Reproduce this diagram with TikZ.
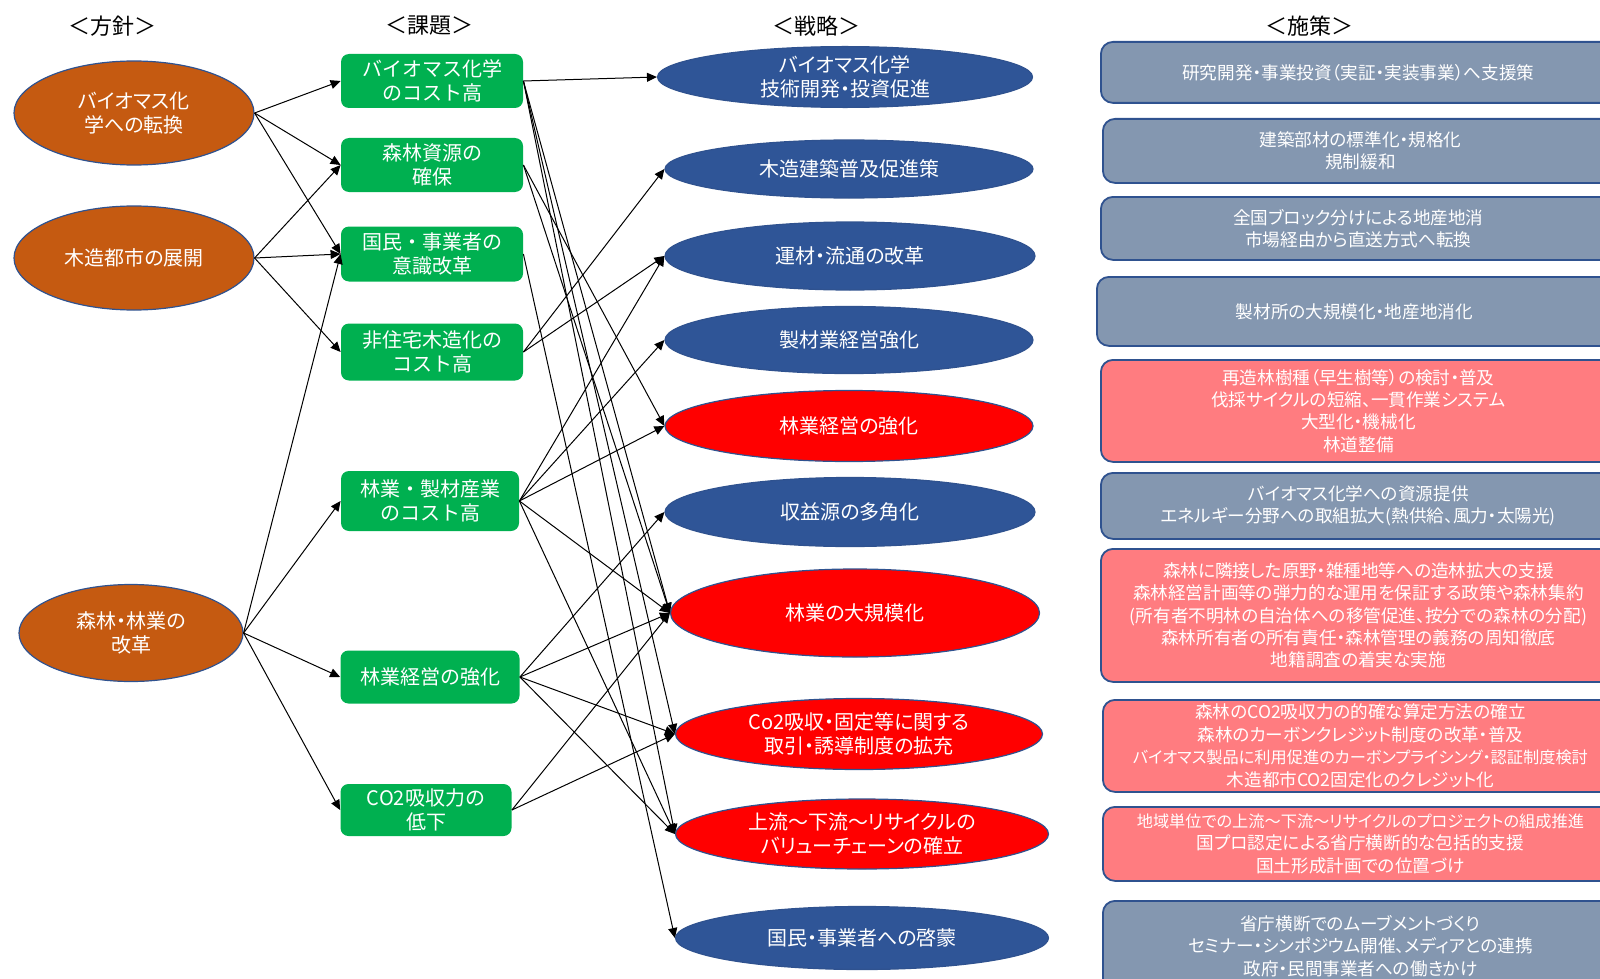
\documentclass[tikz,border=0pt]{standalone}
\usepackage{fontspec}
\setmainfont{Noto Sans CJK JP}
\newfontfamily\paltfont[RawFeature=+palt]{Noto Sans CJK JP}
\usetikzlibrary{shapes.geometric,arrows.meta}

\definecolor{orangefill}{HTML}{C55A11}
\definecolor{greenfill}{HTML}{00B050}
\definecolor{bluefill}{HTML}{2F5597}
\definecolor{redfill}{HTML}{FF0000}
\definecolor{grayblue}{HTML}{8497B0}
\definecolor{pinkfill}{HTML}{FF7C80}
\definecolor{edgeblue}{HTML}{2F528F}

\newcommand{\narrowline}[1]{{\fontsize{8.1}{11.2}\selectfont #1}}

\tikzset{
  hoshin/.style={ellipse, fill=orangefill, draw=edgeblue, line width=0.6pt, text=white, align=center, inner sep=0pt, font=\paltfont\fontsize{10}{12}\selectfont},
  kadai/.style={rectangle, rounded corners=4pt, fill=greenfill, text=white, align=center, inner sep=0pt, font=\fontsize{10}{11.7}\selectfont},
  senryaku/.style={ellipse, draw=edgeblue, line width=0.6pt, text=white, align=center, inner sep=0pt, font=\paltfont\fontsize{10}{12.2}\selectfont},
  sesaku/.style={rectangle, rounded corners=6pt, draw=edgeblue, line width=0.9pt, text=white, align=center, anchor=north west, minimum width=257.5pt, inner sep=0pt, font=\paltfont\fontsize{8.8}{11.2}\selectfont},
  midashi/.style={font=\fontsize{11}{13}\selectfont},
  arr/.style={-{Triangle[length=5pt,width=4.5pt]}, line width=0.5pt}
}

\begin{document}
\begin{tikzpicture}[x=0.5pt,y=-0.5pt]
    \useasboundingbox (0,0) rectangle (1600,979);

    \node[midashi] (h1) at (112,26) {＜方針＞};
    \node[midashi] (h2) at (429,26) {＜課題＞};
    \node[midashi] (h3) at (816,26) {＜戦略＞};
    \node[midashi] (h4) at (1309,26) {＜施策＞};

    % 方針
    \node[hoshin, minimum width=120pt, minimum height=52pt] (p1) at (134,113) {バイオマス化\\学への転換};
    \node[hoshin, minimum width=120pt, minimum height=52pt] (p2) at (134,258) {木造都市の展開};
    \node[hoshin, minimum width=112pt, minimum height=48.5pt] (p3) at (131,633) {森林・林業の\\改革};

    % 課題
    \node[kadai, minimum width=91pt, minimum height=27pt] (k1) at (432,81) {バイオマス化学\\のコスト高};
    \node[kadai, minimum width=91pt, minimum height=27pt] (k2) at (432,165) {森林資源の\\確保};
    \node[kadai, minimum width=91pt, minimum height=27.5pt] (k3) at (432,254) {国民・事業者の\\意識改革};
    \node[kadai, minimum width=91pt, minimum height=28.5pt] (k4) at (432,352) {非住宅木造化の\\コスト高};
    \node[kadai, minimum width=89pt, minimum height=30pt] (k5) at (430,501) {林業・製材産業\\のコスト高};
    \node[kadai, minimum width=89.5pt, minimum height=26.5pt] (k6) at (430,677) {林業経営の強化};
    \node[kadai, minimum width=85.5pt, minimum height=26pt] (k7) at (426,810) {CO2吸収力の\\低下};

    % 戦略
    \node[senryaku, fill=bluefill, minimum width=187.5pt, minimum height=28.5pt] (s1) at (845,77) {バイオマス化学\\技術開発・投資促進};
    \node[senryaku, fill=bluefill, minimum width=184pt, minimum height=29pt] (s2) at (849,169) {木造建築普及促進策};
    \node[senryaku, fill=bluefill, minimum width=185pt, minimum height=34pt] (s3) at (850,256) {運材・流通の改革};
    \node[senryaku, fill=bluefill, minimum width=184pt, minimum height=33.5pt] (s4) at (849,340) {製材業経営強化};
    \node[senryaku, fill=redfill, minimum width=184pt, minimum height=35.5pt] (s5) at (849,426) {林業経営の強化};
    \node[senryaku, fill=bluefill, minimum width=185pt, minimum height=34.5pt] (s6) at (850,512) {収益源の多角化};
    \node[senryaku, fill=redfill, minimum width=184.5pt, minimum height=44pt] (s7) at (855,613) {林業の大規模化};
    \node[senryaku, fill=redfill, minimum width=183.5pt, minimum height=35.5pt] (s8) at (859,734) {Co2吸収・固定等に関する\\取引・誘導制度の拡充};
    \node[senryaku, fill=redfill, minimum width=186.5pt, minimum height=35pt] (s9) at (862,834) {上流～下流～リサイクルの\\バリューチェーンの確立};
    \node[senryaku, fill=bluefill, minimum width=186.5pt, minimum height=31.5pt] (s10) at (862,938) {国民・事業者への啓蒙};

    % 施策
    \begin{scope}
        \clip (0,0) rectangle (1600,979);
        \node[sesaku, fill=grayblue, minimum height=30.5pt] (m1) at (1100,41) {研究開発・事業投資（実証・実装事業）へ支援策};
        \node[sesaku, fill=grayblue, minimum height=32pt] (m2) at (1102,118) {建築部材の標準化・規格化\\規制緩和};
        \node[sesaku, fill=grayblue, minimum height=31.5pt] (m3) at (1100,196) {全国ブロック分けによる地産地消\\市場経由から直送方式へ転換};
        \node[sesaku, fill=grayblue, minimum height=34.5pt] (m4) at (1096,276) {製材所の大規模化・地産地消化};
        \node[sesaku, fill=pinkfill, minimum height=51pt] (m5) at (1100,359) {再造林樹種（早生樹等）の検討・普及\\伐採サイクルの短縮、一貫作業システム\\大型化・機械化\\林道整備};
        \node[sesaku, fill=grayblue, minimum height=33pt] (m6) at (1100,472) {バイオマス化学への資源提供\\エネルギー分野への取組拡大(熱供給、風力・太陽光)};
        \node[sesaku, fill=pinkfill, minimum height=66.5pt] (m7) at (1100,548) {森林に隣接した原野・雑種地等への造林拡大の支援\\森林経営計画等の弾力的な運用を保証する政策や森林集約\\(所有者不明林の自治体への移管促進、按分での森林の分配)\\森林所有者の所有責任・森林管理の義務の周知徹底\\地籍調査の着実な実施};
        \node[sesaku, fill=pinkfill, minimum height=46pt] (m8) at (1102,699) {森林のCO2吸収力の的確な算定方法の確立\\森林のカーボンクレジット制度の改革・普及\\\narrowline{バイオマス製品に利用促進のカーボンプライシング・認証制度検討}\\木造都市CO2固定化のクレジット化};
        \node[sesaku, fill=pinkfill, minimum height=37pt] (m9) at (1102,806) {\narrowline{地域単位での上流～下流～リサイクルのプロジェクトの組成推進}\\国プロ認定による省庁横断的な包括的支援\\国土形成計画での位置づけ};
        \node[sesaku, fill=grayblue, minimum height=45pt] (m10) at (1102,900) {省庁横断でのムーブメントづくり\\セミナー・シンポジウム開催、メディアとの連携\\政府・民間事業者への働きかけ};
    \end{scope}

    % 方針 -> 課題
    \draw[arr] (p1.east) -- (k1.west);
    \draw[arr] (p1.east) -- (k2.west);
    \draw[arr] (p1.east) -- (k3.west);
    \draw[arr] (p2.east) -- (k2.west);
    \draw[arr] (p2.east) -- (k3.west);
    \draw[arr] (p2.east) -- (k4.west);
    \draw[arr] (p3.east) -- (k3.west);
    \draw[arr] (p3.east) -- (k5.west);
    \draw[arr] (p3.east) -- (k6.west);
    \draw[arr] (p3.east) -- (k7.west);

    % 課題 -> 戦略
    \draw[arr] (k1.east) -- (s1.west);
    \draw[arr] (k1.east) -- (s7.west);
    \draw[arr] (k1.east) -- (s8.west);
    \draw[arr] (k1.east) -- (s9.west);
    \draw[arr] (k2.east) -- (s5.west);
    \draw[arr] (k2.east) -- (s7.west);
    \draw[arr] (k3.east) -- (s10.west);
    \draw[arr] (k4.east) -- (s2.west);
    \draw[arr] (k4.east) -- (s3.west);
    \draw[arr] (k5.east) -- (s3.west);
    \draw[arr] (k5.east) -- (s4.west);
    \draw[arr] (k5.east) -- (s5.west);
    \draw[arr] (k5.east) -- (s7.west);
    \draw[arr] (k5.east) -- (s9.west);
    \draw[arr] (k6.east) -- (s6.west);
    \draw[arr] (k6.east) -- (s7.west);
    \draw[arr] (k6.east) -- (s8.west);
    \draw[arr] (k6.east) -- (s9.west);
    \draw[arr] (k7.east) -- (s7.west);
    \draw[arr] (k7.east) -- (s8.west);
\end{tikzpicture}
\end{document}
